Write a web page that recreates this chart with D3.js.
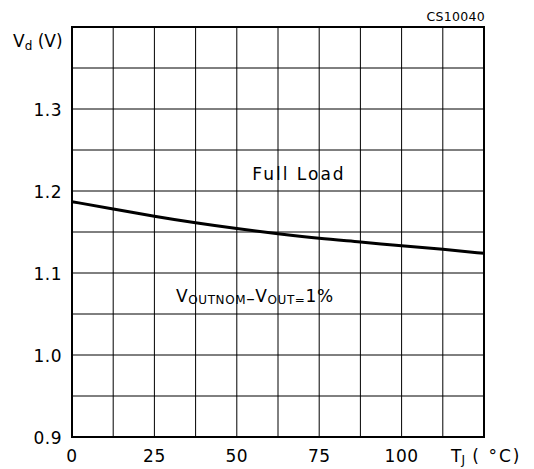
<!DOCTYPE html>
<html>
<head>
<meta charset="utf-8">
<script src="https://cdn.jsdelivr.net/npm/d3@7"></script>
<style>
  body { margin: 0; background: #fff; }
  text { font-family: "DejaVu Sans", "Liberation Sans", sans-serif; fill: #000; }
</style>
</head>
<body>
<div id="chart"></div>
<script>
// data
const tj = [0, 12.5, 25, 37.5, 50, 62.5, 75, 87.5, 100, 112.5, 125]
const vd = [1.187, 1.178, 1.169, 1.161, 1.154, 1.148, 1.142, 1.138, 1.133, 1.129, 1.124]
const xTicks = [0, 25, 50, 75, 100]
const yTicks = [0.9, 1.0, 1.1, 1.2, 1.3]

const width = 534, height = 469
const margin = { left: 72, right: 50, top: 27, bottom: 32 }

const svg = d3.select("#chart").append("svg")
    .attr("width", width)
    .attr("height", height)

const x = d3.scaleLinear().domain([0, 125]).range([margin.left, width - margin.right])
const y = d3.scaleLinear().domain([0.9, 1.4]).range([height - margin.bottom, margin.top])

// grid
const grid = svg.append("g").attr("stroke", "#000").attr("stroke-width", 1)
grid.selectAll(".vx").data(d3.range(0, 125.1, 12.5)).enter().append("line")
    .attr("x1", d => x(d)).attr("x2", d => x(d))
    .attr("y1", y(0.9)).attr("y2", y(1.4))
grid.selectAll(".hy").data(d3.range(0.9, 1.401, 0.05)).enter().append("line")
    .attr("y1", d => y(d)).attr("y2", d => y(d))
    .attr("x1", x(0)).attr("x2", x(125))

svg.append("rect")
    .attr("x", x(0)).attr("y", y(1.4))
    .attr("width", x(125) - x(0)).attr("height", y(0.9) - y(1.4))
    .attr("fill", "none").attr("stroke", "#000").attr("stroke-width", 2)

// axes labels
svg.selectAll(".ylab").data(yTicks).enter().append("text")
    .attr("x", 62).attr("y", d => y(d) + 7)
    .attr("text-anchor", "end").attr("font-size", 17).attr("letter-spacing", 0.5)
    .text(d => d.toFixed(1))

svg.selectAll(".xlab").data(xTicks).enter().append("text")
    .attr("x", d => x(d)).attr("y", 462)
    .attr("text-anchor", "middle").attr("font-size", 17).attr("letter-spacing", 0.5)
    .text(d => d)

const tl = svg.append("text").attr("x", 451).attr("y", 462).attr("font-size", 17)
tl.append("tspan").text("T")
tl.append("tspan").attr("font-size", 12).attr("dy", 2).text("J")
tl.append("tspan").attr("dy", -2).attr("letter-spacing", 2).text(" ( °C)")

const vl = svg.append("text").attr("x", 13).attr("y", 47).attr("font-size", 17)
vl.append("tspan").text("V")
vl.append("tspan").attr("font-size", 12).attr("dy", 3).text("d")
vl.append("tspan").attr("dy", -3).text(" (V)")

svg.append("text")
    .attr("x", x(125) + 1).attr("y", 21)
    .attr("text-anchor", "end").attr("font-size", 12.5).attr("letter-spacing", 0.3)
    .text("CS10040")

// curve
const line = d3.line().x((d, i) => x(tj[i])).y(d => y(d)).curve(d3.curveBasis)
svg.append("path")
    .attr("d", line(vd))
    .attr("fill", "none").attr("stroke", "#000").attr("stroke-width", 3)

svg.append("text")
    .attr("x", 299).attr("y", 180)
    .attr("text-anchor", "middle").attr("font-size", 17)
    .attr("letter-spacing", 2)
    .text("Full  Load")

const cond = svg.append("text").attr("x", 176).attr("y", 302).attr("font-size", 17)
    .attr("letter-spacing", 0.6)
cond.append("tspan").text("V")
cond.append("tspan").attr("font-size", 12).attr("dy", 2).text("OUTNOM")
cond.append("tspan").text("–")
cond.append("tspan").attr("font-size", 17).attr("dy", -2).text("V")
cond.append("tspan").attr("font-size", 12).attr("dy", 2).text("OUT=")
cond.append("tspan").attr("font-size", 17).attr("dy", -2).text("1%")
</script>
</body>
</html>
